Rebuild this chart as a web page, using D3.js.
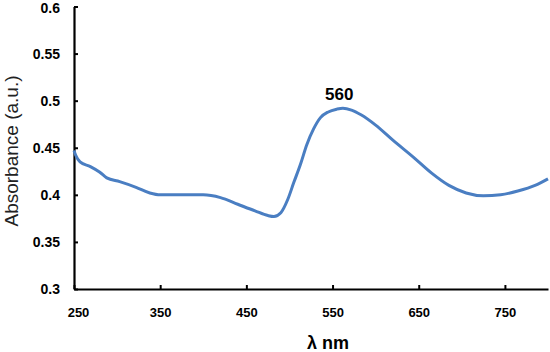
<!DOCTYPE html>
<html>
<head>
<meta charset="utf-8">
<script src="https://cdn.jsdelivr.net/npm/d3@7"></script>
<style>
  body { margin: 0; background: #fff; }
  svg { display: block; font-family: "Liberation Sans", Arial, sans-serif; }
</style>
</head>
<body>
<div id="chart"></div>
<script>
// Spectrum
const wavelength = [250, 252, 257, 269, 280, 288, 303, 322, 338, 350, 370, 400, 420, 440, 460, 475, 482,
    490, 498, 505, 513, 520, 528, 536, 545, 555, 562, 572, 583, 600, 620, 645, 665, 685, 705, 725,
    745, 765, 785, 800];
const absorbance = [0.447, 0.442, 0.435, 0.430, 0.424, 0.418, 0.414, 0.408, 0.402, 0.400, 0.400, 0.400,
    0.397, 0.390, 0.383, 0.378, 0.377, 0.381, 0.395, 0.413, 0.433, 0.453, 0.470, 0.482, 0.488, 0.491,
    0.492, 0.490, 0.485, 0.474, 0.458, 0.439, 0.423, 0.410, 0.402, 0.399, 0.400, 0.404, 0.410, 0.417];

const xTicks = [250, 350, 450, 550, 650, 750];
const yTicks = [0.3, 0.35, 0.4, 0.45, 0.5, 0.55, 0.6];
const peakLabel = "560";
const peakAt = 560;

const width = 550;
const height = 352;
const margin = { top: 6.5, right: 2, bottom: 63, left: 74 };

const svg = d3.select("#chart")
    .append("svg")
    .attr("width", width)
    .attr("height", height);

const xScale = d3.scaleLinear()
    .domain([250, 800])
    .range([margin.left, width - margin.right]);

const yScale = d3.scaleLinear()
    .domain([0.3, 0.6])
    .range([height - margin.bottom, margin.top]);

// x axis, ticks pointing up into the plot
const xAxis = svg.append("g")
    .attr("transform", `translate(0,${height - margin.bottom})`)
    .call(d3.axisBottom(xScale).tickValues(xTicks).tickSizeInner(-4).tickSizeOuter(0).tickPadding(19));
xAxis.select(".domain").attr("stroke", "#000").attr("stroke-width", 2.2);
xAxis.selectAll(".tick line").attr("stroke", "#000").attr("stroke-width", 2);
xAxis.selectAll(".tick text")
    .style("font-size", "13px")
    .style("font-weight", "bold")
    .attr("fill", "#000")
    .attr("dx", d => d === 250 ? 4 : 0);

// y axis, ticks pointing right into the plot
const yAxis = svg.append("g")
    .attr("transform", `translate(${margin.left},0)`)
    .call(d3.axisLeft(yScale).tickValues(yTicks).tickSizeInner(-4).tickSizeOuter(0).tickPadding(14)
        .tickFormat(d => d3.format("")(+d.toFixed(2))));
yAxis.select(".domain").attr("stroke", "#000").attr("stroke-width", 2.2);
yAxis.selectAll(".tick line").attr("stroke", "#000").attr("stroke-width", 2);
yAxis.selectAll(".tick text")
    .style("font-size", "14px")
    .style("font-weight", "bold")
    .attr("fill", "#000")
    .attr("dy", d => d === 0.6 ? "0.45em" : "0.32em");

// Curve
const line = d3.line()
    .x((d, i) => xScale(wavelength[i]))
    .y(d => yScale(d))
    .curve(d3.curveMonotoneX);

svg.append("path")
    .datum(absorbance)
    .attr("fill", "none")
    .attr("stroke", "#4a7ec2")
    .attr("stroke-width", 3)
    .attr("stroke-linejoin", "round")
    .attr("d", line);

// Peak label
svg.append("text")
    .attr("x", xScale(peakAt) - 2)
    .attr("y", yScale(0.492) - 8)
    .attr("text-anchor", "middle")
    .style("font-size", "17px")
    .style("font-weight", "bold")
    .text(peakLabel);

// Axis labels
svg.append("text")
    .attr("x", 328)
    .attr("y", 349)
    .attr("text-anchor", "middle")
    .style("font-size", "18px")
    .style("font-weight", "bold")
    .text("λ nm");

svg.append("text")
    .attr("transform", `translate(18,151) rotate(-90)`)
    .attr("text-anchor", "middle")
    .style("font-size", "19px")
    .attr("fill", "#222")
    .text("Absorbance (a.u.)");
</script>
</body>
</html>
